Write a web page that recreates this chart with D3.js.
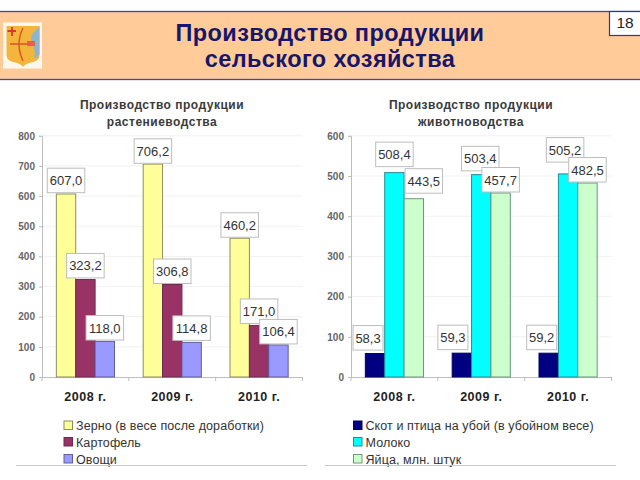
<!DOCTYPE html>
<html><head><meta charset="utf-8">
<script src="https://cdn.jsdelivr.net/npm/d3@7"></script>
<style>html,body{margin:0;padding:0;background:#fff}svg{display:block}text{font-family:"Liberation Sans",Arial,sans-serif}</style>
</head><body><svg id="c" width="640" height="480"></svg>
<script>
const years = ["2008 г.", "2009 г.", "2010 г."];
const plantNames = ["Зерно (в весе после доработки)", "Картофель", "Овощи"];
const grain = [607.0, 706.2, 460.2];
const potato = [323.2, 306.8, 171.0];
const vegetables = [118.0, 114.8, 106.4];
const animalNames = ["Скот и птица на убой (в убойном весе)", "Молоко", "Яйца, млн. штук"];
const meat = [58.3, 59.3, 59.2];
const milk = [508.4, 503.4, 505.2];
const eggs = [443.5, 457.7, 482.5];
const plantTicks = [0, 100, 200, 300, 400, 500, 600, 700, 800];
const animalTicks = [0, 100, 200, 300, 400, 500, 600];
const plantTitle = ["Производство продукции", "растениеводства"];
const animalTitle = ["Производство продукции", "животноводства"];
const mainTitle = ["Производство продукции", "сельского хозяйства"];

const svg = d3.select("#c");
const fmt = v => v.toFixed(1).replace(".", ",");

// header
svg.append("rect").attr("x", -2).attr("y", 11.5).attr("width", 644).attr("height", 68)
  .attr("fill", "#FFCC99").attr("stroke", "#4040C8").attr("stroke-width", 1.3);
svg.selectAll(".mt").data(mainTitle).join("text").attr("x", 330).attr("y", (d, i) => [41, 67][i])
  .attr("text-anchor", "middle").attr("font-size", 23.5).attr("font-weight", "bold").attr("fill", "#16166A")
  .style("letter-spacing", "0.4px").text(d => d);
svg.append("rect").attr("x", 609.5).attr("y", 11.5).attr("width", 32).attr("height", 24)
  .attr("fill", "#fff").attr("stroke", "#3030B0").attr("stroke-width", 1.2);
svg.append("text").attr("x", 625).attr("y", 28).attr("text-anchor", "middle").attr("font-size", 15.5).attr("fill", "#222").text("18");

// crest
const crest = svg.append("g");
crest.append("rect").attr("x", 3).attr("y", 22.5).attr("width", 39).attr("height", 46).attr("fill", "#FDF8EE");
const shield = "M6.5 26H39.5V55Q39.5 61 31 62.5Q25 63.5 23 67Q21 63.5 15 62.5Q6.5 61 6.5 55Z";
crest.append("path").attr("d", shield).attr("fill", "#F3B63A");
crest.append("path").attr("d", "M33 33Q39 28 39.5 26V54Q37 58 34 58Q36 52 33 46Q29 40 33 33Z").attr("fill", "#8FB4D0");
crest.append("path").attr("d", "M23 28Q15 44 23 61M10 44H33").attr("fill", "none").attr("stroke", "#D8552A").attr("stroke-width", 1.4);
crest.append("path").attr("d", "M7.5 31H16M12 27V36").attr("fill", "none").attr("stroke", "#D83A28").attr("stroke-width", 1.8);
crest.append("rect").attr("x", 27).attr("y", 41).attr("width", 8).attr("height", 5).attr("fill", "#E8604C");

function chart(o) {
  const g = svg.append("g");
  const y = d3.scaleLinear().domain([0, o.max]).range([377, 135.8]);
  const x0 = d3.scaleBand().domain(years).range([o.left, o.left + 260.5]);
  const x1 = d3.scaleBand().domain(d3.range(o.series.length)).range([0, x0.bandwidth()]).paddingOuter(0.74).paddingInner(0);

  g.selectAll(".grid").data(o.ticks.slice(1)).join("line")
    .attr("x1", o.left).attr("x2", o.left + 260.5).attr("y1", d => y(d)).attr("y2", d => y(d))
    .attr("stroke", "#f1f1f1");

  const ax = g.append("g").attr("transform", `translate(${o.left},0)`)
    .call(d3.axisLeft(y).tickValues(o.ticks).tickSize(3).tickPadding(4));
  const bx = g.append("g").attr("transform", "translate(0,377)")
    .call(d3.axisBottom(x0).tickSize(0).tickPadding(15));
  [ax, bx].forEach(a => { a.selectAll(".domain").attr("stroke", "#bdbdbd"); a.selectAll("line").attr("stroke", "#bdbdbd"); });
  ax.selectAll("text").attr("font-size", 10).attr("font-weight", "bold").attr("fill", "#666");
  bx.selectAll("text").attr("font-size", 12.5).attr("font-weight", "bold").attr("fill", "#222")
    .style("letter-spacing", "0.5px");
  g.selectAll(".xt").data([...years.map(d => x0(d)), o.left + 260.5]).join("line")
    .attr("x1", d => d).attr("x2", d => d).attr("y1", 377).attr("y2", 381).attr("stroke", "#bdbdbd");

  o.series.forEach((vals, s) => {
    g.selectAll(".b" + s).data(vals).join("rect")
      .attr("x", (d, i) => x0(years[i]) + x1(s)).attr("width", x1.bandwidth())
      .attr("y", d => y(d)).attr("height", d => y(0) - y(d))
      .attr("fill", o.colors[s]).attr("stroke", o.strokes[s]).attr("stroke-width", 1);
  });
  o.series.forEach((vals, s) => {
    vals.forEach((v, i) => {
      const w = v < 100 ? 30 : 37.5, h = 24.5;
      const cx = x0(years[i]) + x1(s) + x1.bandwidth() / 2 + o.shiftX[s][i];
      const bottom = y(v) - o.gap[s][i];
      const l = g.append("g");
      l.append("rect").attr("x", cx - w / 2).attr("y", bottom - h).attr("width", w).attr("height", h)
        .attr("fill", "#fff").attr("stroke", "#bdbdbd");
      l.append("text").attr("x", cx).attr("y", bottom - 7.5).attr("text-anchor", "middle")
        .attr("font-size", 13).attr("fill", "#333").text(fmt(v));
    });
  });

  g.selectAll(".st").data(o.title).join("text").attr("x", o.titleX).attr("y", (d, i) => [109, 126][i])
    .attr("text-anchor", "middle").attr("font-size", 12).attr("font-weight", "bold").attr("fill", "#3a3a3a")
    .style("letter-spacing", "0.5px").text(d => d);

  o.names.forEach((n, s) => {
    const cy = [425.5, 442, 459][s];
    g.append("rect").attr("x", o.legendX).attr("y", cy - 4.5).attr("width", 8.5).attr("height", 8.5)
      .attr("fill", o.colors[s]).attr("stroke", o.strokes[s]);
    g.append("text").attr("x", o.legendX + 12).attr("y", cy + 4.5).attr("font-size", 12.5).attr("fill", "#333")
      .style("letter-spacing", "0.09px").text(n);
  });
  g.append("line").attr("x1", o.ruleX).attr("x2", o.ruleX + 291).attr("y1", 465.5).attr("y2", 465.5).attr("stroke", "#c8c8c8");
}

chart({
  left: 42, max: 800, ticks: plantTicks, series: [grain, potato, vegetables], names: plantNames, title: plantTitle,
  titleX: 162, legendX: 64, ruleX: 16,
  colors: ["#FFFF99", "#993366", "#9999FF"], strokes: ["#8E8E5A", "#6A2C50", "#5F5F9E"],
  shiftX: [[0, 0, 0], [0, 0, 0], [0, 0, 0]],
  gap: [[1.3, 0.8, 1], [1.6, 1, 2], [1.4, 2, 1]]
});
chart({
  left: 351, max: 600, ticks: animalTicks, series: [meat, milk, eggs], names: animalNames, title: animalTitle,
  titleX: 471, legendX: 353.5, ruleX: 325,
  colors: ["#000080", "#00FFFF", "#CCFFCC"], strokes: ["#000060", "#2A8A96", "#6E9682"],
  shiftX: [[-7, -9, -7], [0, -1, -3], [10, 0, 0]],
  gap: [[3.5, 3.5, 3.5], [6, 3.8, 11.8], [5.5, 1, 1]]
});
</script></body></html>
